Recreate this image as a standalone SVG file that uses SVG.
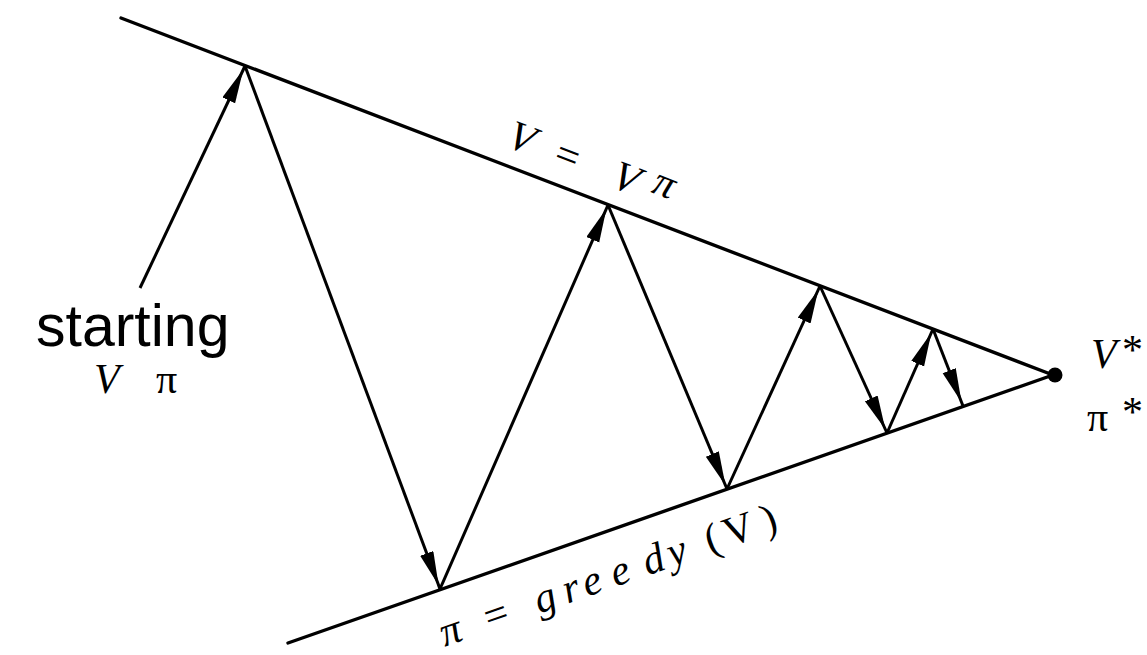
<svg xmlns="http://www.w3.org/2000/svg" width="1147" height="655" viewBox="0 0 1147 655">
<style>
.ln{stroke:#000;stroke-width:3.4;fill:none;stroke-linecap:round}
.ar{stroke:#000;stroke-width:3;fill:none;marker-end:url(#ah)}
.it{font-family:"Liberation Serif","DejaVu Serif",serif;font-style:italic;font-size:42px;fill:#000}
.up{font-family:"Liberation Serif","DejaVu Serif",serif;font-style:normal;font-size:42px;fill:#000}
.sans{font-family:"Liberation Sans",Arial,sans-serif;font-size:59px;fill:#000}
</style>
<defs>
<marker id="ah" markerUnits="userSpaceOnUse" markerWidth="40" markerHeight="16" refX="38" refY="7" orient="auto">
<path d="M0,0 L34,7 L0,14 Z" fill="#000"/>
</marker>
</defs>
<g id="bounds">
<line class="ln" x1="121" y1="18" x2="1053" y2="375"/>
<line class="ln" x1="288" y1="643" x2="1053" y2="375"/>
<circle cx="1055" cy="375" r="7.5" fill="#000"/>
</g>
<g id="connectors">
<line class="ar" x1="140" y1="288" x2="245" y2="66"/>
<line class="ar" x1="245" y1="66" x2="440" y2="589"/>
<line class="ar" x1="440" y1="589" x2="608" y2="205"/>
<line class="ar" x1="608" y1="205" x2="727" y2="489"/>
<line class="ar" x1="727" y1="489" x2="820" y2="286"/>
<line class="ar" x1="820" y1="286" x2="887" y2="433"/>
<line class="ar" x1="887" y1="433" x2="933" y2="329"/>
<line class="ar" x1="933" y1="329" x2="963" y2="406"/>
</g>
<g id="label-top" transform="translate(505,146) rotate(21)">
<text class="it" x="0" y="0">V</text>
<text class="up" x="50" y="0">=</text>
<text class="it" x="112" y="0">V</text>
<text class="it" x="152" y="-9" font-size="34">π</text>
</g>
<g id="label-bottom" transform="translate(441,648) rotate(-19.3)">
<text class="it" x="4" y="0">π</text>
<text class="up" x="51" y="0">=</text>
<text class="it" x="104" y="0">g</text>
<text class="it" x="134" y="0">r</text>
<text class="it" x="155" y="0">e</text>
<text class="it" x="185" y="0">e</text>
<text class="it" x="219" y="0">d</text>
<text class="it" x="245" y="0">y</text>
<text class="up" x="285" y="0">(</text>
<text class="up" x="305" y="0">V</text>
<text class="up" x="345" y="0">)</text>
</g>
<g id="start">
<text class="sans" x="36" y="346">starting</text>
<text class="it" x="94" y="393">V</text>
<text class="up" x="156" y="393">π</text>
</g>
<g id="optimum">
<text class="it" x="1091" y="368">V</text>
<text class="up" x="1122" y="364" font-size="26">*</text>
<text class="up" x="1087" y="431">π</text>
<text class="up" x="1122" y="426" font-size="26" fill="#888">*</text>
</g>
</svg>
